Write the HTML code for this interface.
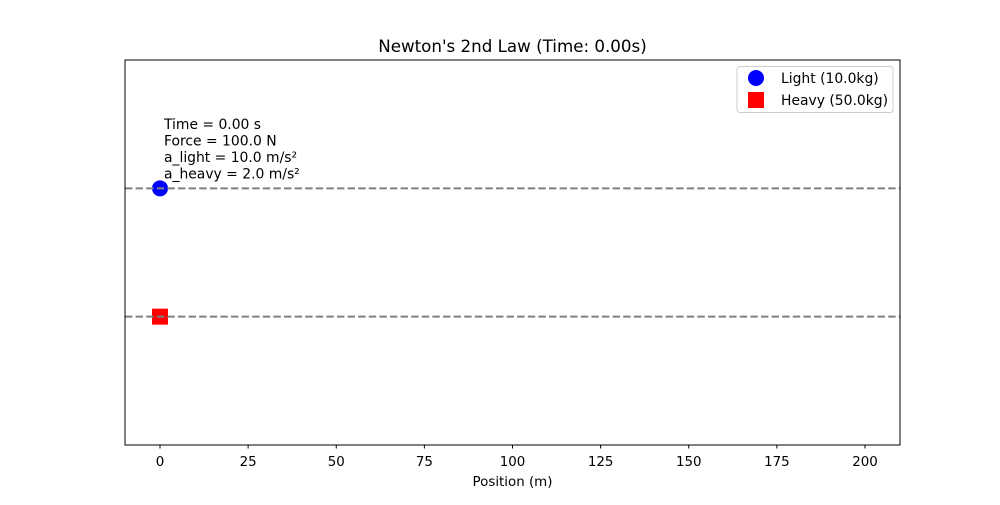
<!DOCTYPE html>
<html><head><meta charset="utf-8"><style>
body{margin:0;background:#fff}
svg text{font-family:"DejaVu Sans","Liberation Sans",sans-serif;fill:#000}
</style></head><body>
<svg width="1000" height="500" viewBox="0 0 1000 500" id="chart">
<rect width="1000" height="500" fill="#fff"/>
<text x="512.5" y="52" font-size="16.7" text-anchor="middle">Newton's 2nd Law (Time: 0.00s)</text>
<g id="plot"></g>
<rect x="125" y="60" width="775" height="385" fill="none" stroke="#000" stroke-width="1"/>
<g id="ticks"></g>
<text x="512.5" y="486" font-size="13.4" text-anchor="middle">Position (m)</text>
<g font-size="13.9">
<text x="164" y="129">Time = 0.00 s</text>
<text x="164" y="145.5">Force = 100.0 N</text>
<text x="164" y="162">a_light = 10.0 m/s²</text>
<text x="164" y="178.5">a_heavy = 2.0 m/s²</text>
</g>
<g>
<rect x="737" y="66.5" width="156" height="46" rx="3" fill="#fff" fill-opacity="0.8" stroke="#ccc"/>
<circle cx="756" cy="78" r="8" fill="#0000ff"/>
<text x="781" y="83" font-size="13.9">Light (10.0kg)</text>
<rect x="748" y="92" width="16" height="16" fill="#ff0000"/>
<text x="781" y="105" font-size="13.9">Heavy (50.0kg)</text>
</g>
</svg>
<script>
const xTicks=[0,25,50,75,100,125,150,175,200];
const objNames=["light","heavy"];
const objPos=[0,0];
const objLane=[1,0];
const X=v=>160+(v)*3.525;
const Y=v=>445-(v+1)*(385/3);
const NS="http://www.w3.org/2000/svg";
const plot=document.getElementById('plot'),ticks=document.getElementById('ticks');
objNames.forEach((n,i)=>{
  const y=Y(objLane[i]),x=X(objPos[i]);
  let m;
  if(n==="light"){m=document.createElementNS(NS,'circle');m.setAttribute('cx',x);m.setAttribute('cy',y);m.setAttribute('r',8);m.setAttribute('fill','#0000ff');}
  else{m=document.createElementNS(NS,'rect');m.setAttribute('x',x-8);m.setAttribute('y',y-8);m.setAttribute('width',16);m.setAttribute('height',16);m.setAttribute('fill','#ff0000');}
  
  
  plot.appendChild(m);
  const l=document.createElementNS(NS,'line');
  l.setAttribute('x1',125);l.setAttribute('x2',900);l.setAttribute('y1',y);l.setAttribute('y2',y);
  l.setAttribute('stroke','#808080');l.setAttribute('stroke-width',2);l.setAttribute('stroke-dasharray','7.4,3.2');
  
  
  plot.appendChild(l);
});
xTicks.forEach(t=>{
  const x=X(t);
  const l=document.createElementNS(NS,'line');
  l.setAttribute('x1',x);l.setAttribute('x2',x);l.setAttribute('y1',445);l.setAttribute('y2',448.5);l.setAttribute('stroke','#000');
  
  
  ticks.appendChild(l);
  const tx=document.createElementNS(NS,'text');
  tx.setAttribute('x',x);tx.setAttribute('y',466);tx.setAttribute('font-size',13.4);tx.setAttribute('text-anchor','middle');
  tx.textContent=t;
  
  
  ticks.appendChild(tx);
});
</script>
</body></html>
